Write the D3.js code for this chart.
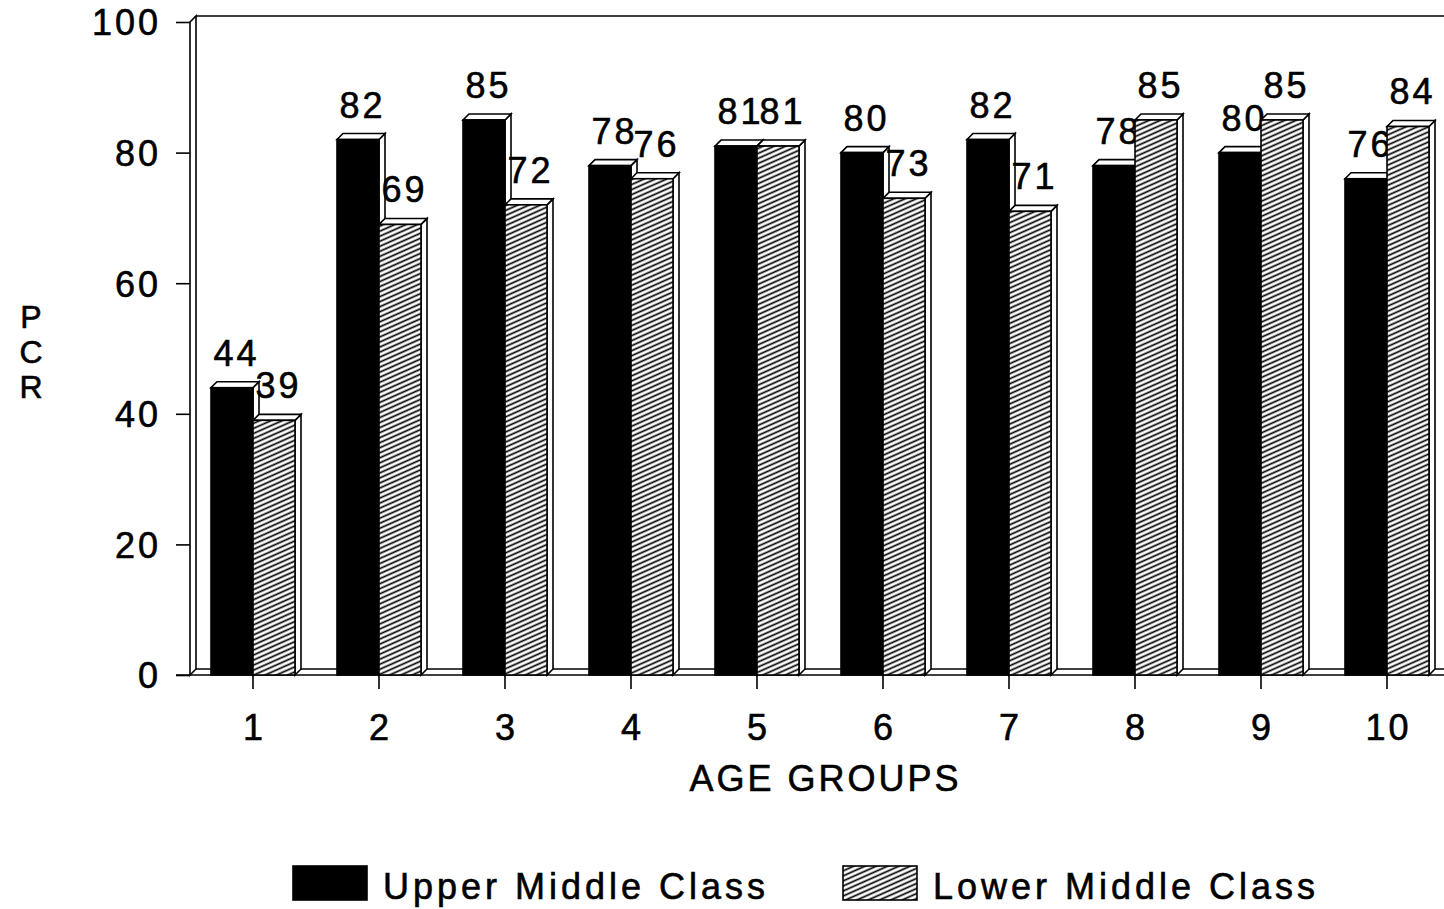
<!DOCTYPE html>
<html>
<head>
<meta charset="utf-8">
<script src="https://cdn.jsdelivr.net/npm/d3@7"></script>
<style>
  html, body { margin: 0; padding: 0; background: #fff; }
  svg { display: block; }
  text { font-family: "Liberation Sans", Arial, Helvetica, sans-serif; fill: #000; stroke: #000; stroke-width: 0.6px; }
</style>
</head>
<body>
<svg id="chart" width="1444" height="909"></svg>
<script>
// Age groups on the category axis
const groups = ["1", "2", "3", "4", "5", "6", "7", "8", "9", "10"];
// PCR by social class
const upperMiddle = [44, 82, 85, 78, 81, 80, 82, 78, 80, 76];
const lowerMiddle = [39, 69, 72, 76, 81, 73, 71, 85, 85, 84];
const seriesNames = ["Upper Middle Class", "Lower Middle Class"];
const yTicks = [0, 20, 40, 60, 80, 100];

const svg = d3.select("#chart");
const depth = 6;          // 3-D offset of bar tops / walls
const ls = 3;             // letter spacing used for numbers and titles
const fontSize = 36;
const fontFamily = '"Liberation Sans", Arial, sans-serif';

// Diagonal hatch for the lower-middle-class bars
const defs = svg.append("defs");
const pat = defs.append("pattern")
  .attr("id", "hatch")
  .attr("patternUnits", "userSpaceOnUse")
  .attr("width", 10).attr("height", 4.6)
  .attr("patternTransform", "rotate(-24)");
pat.append("rect").attr("width", 10).attr("height", 4.6).attr("fill", "#fff");
pat.append("line").attr("x1", 0).attr("x2", 10).attr("y1", 2.3).attr("y2", 2.3)
  .attr("stroke", "#000").attr("stroke-width", 1.7);

const x = d3.scaleBand().domain(groups).range([190, 1450])
  .paddingInner(1 / 3).paddingOuter(1 / 6);
const y = d3.scaleLinear().domain([0, 100]).range([675, 22]);
const base = y(0);
const wallX = x.range()[0];

// Frame: left wall, back-top edge, floor
const frame = svg.append("g").attr("fill", "none").attr("stroke", "#000").attr("stroke-width", 1.6);
frame.append("path").attr("d",
  `M${wallX},${y(100)} L${wallX},${base} L${wallX + depth},${base - depth} L${wallX + depth},${y(100) - depth} Z`)
  .attr("fill", "#fff");
frame.append("line").attr("x1", wallX + depth).attr("x2", 1444)
  .attr("y1", y(100) - depth).attr("y2", y(100) - depth);
frame.append("line").attr("x1", wallX + depth).attr("x2", 1444)
  .attr("y1", base - depth).attr("y2", base - depth);

// Y axis
const yAxis = svg.append("g").attr("transform", `translate(${wallX},0)`)
  .call(d3.axisLeft(y).tickValues(yTicks).tickSize(14).tickPadding(18).tickFormat(d3.format("d")));
yAxis.select(".domain").remove();
yAxis.selectAll("line").attr("stroke", "#000").attr("stroke-width", 1.6);
yAxis.selectAll("text")
  .attr("font-size", fontSize).attr("letter-spacing", ls)
  .attr("dx", ls).attr("dy", "0.36em")
  .style("font-family", fontFamily);

// X axis
const xAxis = svg.append("g").attr("transform", `translate(0,${base})`)
  .call(d3.axisBottom(x).tickSize(14).tickPadding(0));
xAxis.select(".domain").remove();
xAxis.selectAll("line").attr("stroke", "#000").attr("stroke-width", 1.6);
xAxis.selectAll("text")
  .attr("font-size", fontSize).attr("letter-spacing", ls)
  .attr("y", 65).attr("dy", 0).attr("dx", ls / 2)
  .style("font-family", fontFamily);
svg.append("line").attr("x1", 176).attr("x2", 1444).attr("y1", base).attr("y2", base)
  .attr("stroke", "#000").attr("stroke-width", 1.6);

// Bars, drawn group by group so each lower bar sits over its neighbour's side face
const bw = x.bandwidth() / 2;
function bar(g, x0, v, fill) {
  const yt = y(v);
  g.append("path")
    .attr("d", `M${x0 + bw},${yt} L${x0 + bw + depth},${yt - depth} L${x0 + bw + depth},${base - depth} L${x0 + bw},${base} Z`)
    .attr("fill", "#fff").attr("stroke", "#000").attr("stroke-width", 1.6);
  g.append("path")
    .attr("d", `M${x0},${yt} L${x0 + depth},${yt - depth} L${x0 + bw + depth},${yt - depth} L${x0 + bw},${yt} Z`)
    .attr("fill", "#fff").attr("stroke", "#000").attr("stroke-width", 1.6);
  g.append("rect").attr("x", x0).attr("y", yt).attr("width", bw).attr("height", base - yt)
    .attr("fill", fill).attr("stroke", "#000").attr("stroke-width", 1.6);
  g.append("text")
    .attr("x", x0 + bw / 2 + depth / 2 + ls / 2)
    .attr("y", yt - depth - 16)
    .attr("text-anchor", "middle")
    .attr("font-size", fontSize).attr("letter-spacing", ls)
    .text(v);
}
const bars = svg.append("g");
groups.forEach((grp, i) => {
  const g = bars.append("g");
  const x0 = x(grp);
  bar(g, x0, upperMiddle[i], "#000");
  bar(g, x0 + bw, lowerMiddle[i], "url(#hatch)");
});

// Axis titles
svg.append("text").attr("x", 824 + ls / 2).attr("y", 791).attr("text-anchor", "middle")
  .attr("font-size", fontSize).attr("letter-spacing", ls).text("AGE GROUPS");
const pcr = svg.append("text").attr("text-anchor", "middle").attr("font-size", 32);
["P", "C", "R"].forEach((c, i) => {
  pcr.append("tspan").attr("x", 31).attr("y", 328 + i * 35).text(c);
});

// Legend
const legend = svg.append("g");
const lx = [293, 843];
const fills = ["#000", "url(#hatch)"];
seriesNames.forEach((name, i) => {
  legend.append("rect").attr("x", lx[i]).attr("y", 866).attr("width", 74).attr("height", 34)
    .attr("fill", fills[i]).attr("stroke", "#000").attr("stroke-width", 1.6);
  legend.append("text").attr("x", lx[i] + 90).attr("y", 899)
    .attr("font-size", fontSize).attr("letter-spacing", 4).text(name);
});
</script>
</body>
</html>
